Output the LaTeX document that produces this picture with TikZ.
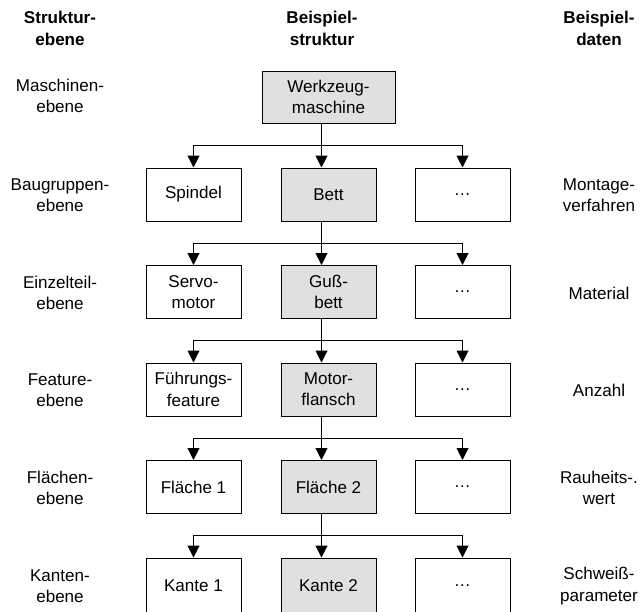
\documentclass[tikz,border=0pt]{standalone}
\usepackage{fontspec}
\setmainfont{Liberation Sans}
\usetikzlibrary{arrows.meta}
\definecolor{boxgray}{RGB}{224,224,224}
\begin{document}
\begin{tikzpicture}[x=0.75pt,y=-0.75pt,
  txt/.style={font=\fontsize{12.8}{16}\selectfont, align=center, inner sep=0pt},
  head/.style={txt, font=\fontsize{12.8}{16.5}\selectfont\bfseries},
  box/.style={txt, draw, line width=0.75pt, minimum width=71.25pt, minimum height=39.75pt},
  selbox/.style={box, fill=boxgray},
  arr/.style={line width=0.75pt, -{Triangle[length=9pt,width=9pt]}},
  link/.style={line width=0.75pt}]
\useasboundingbox (0,0) rectangle (641,611);
\clip (0,0) rectangle (641,611);

% column headings
\node[head] (h1) at (60,28) {Struktur-\\ebene};
\node[head] (h2) at (322,28) {Beispiel-\\struktur};
\node[head] (h3) at (599,28) {Beispiel-\\daten};

% level names (left) and example data (right)
\node[txt] (l1) at (60,96) {Maschinen-\\ebene};
\node[txt] (l2) at (60,195) {Baugruppen-\\ebene};
\node[txt] (l3) at (60,293) {Einzelteil-\\ebene};
\node[txt] (l4) at (60,390) {Feature-\\ebene};
\node[txt] (l5) at (60,488) {Flächen-\\ebene};
\node[txt] (l6) at (60,586) {Kanten-\\ebene};

\node[txt] (d2) at (599,195) {Montage-\\verfahren};
\node[txt] (d3) at (599,293) {Material};
\node[txt] (d4) at (599,390) {Anzahl};
\node[txt] (d5) at (599,488) {Rauheits-.\\wert};
\node[txt] (d6) at (599,586) {Schweiß-\\parameter};

% example structure
\node[selbox, minimum width=99.75pt, minimum height=39pt] (wm) at (328.5,97) {Werkzeug-\\maschine};

\node[box]    (a2) at (193.5,194.5) {Spindel};
\node[selbox] (b2) at (328.5,194.5) {Bett};
\node[box]    (c2) at (462.5,194.5) {\ldots};

\node[box]    (a3) at (193.5,292) {Servo-\\motor};
\node[selbox] (b3) at (328.5,292) {Guß-\\bett};
\node[box]    (c3) at (462.5,292) {\ldots};

\node[box]    (a4) at (193.5,389.5) {Führungs-\\feature};
\node[selbox] (b4) at (328.5,389.5) {Motor-\\flansch};
\node[box]    (c4) at (462.5,389.5) {\ldots};

\node[box]    (a5) at (193.5,487) {Fläche 1};
\node[selbox] (b5) at (328.5,487) {Fläche 2};
\node[box]    (c5) at (462.5,487) {\ldots};

% the lowest row runs past the lower edge of the page
\tikzset{lowrow/.style={minimum height=42pt}}
\node[box, lowrow]    (a6) at (193.5,586) {Kante 1};
\node[selbox, lowrow] (b6) at (328.5,586) {Kante 2};
\node[box, lowrow]    (c6) at (462.5,586) {\ldots};

% branch points of the tree
\coordinate (j2) at (321.5,145.5);
\coordinate (j3) at (321.5,243);
\coordinate (j4) at (321.5,340.5);
\coordinate (j5) at (321.5,438);
\coordinate (j6) at (321.5,535.5);

% connectors
\foreach \p/\j/\n in {wm/j2/2, b2/j3/3, b3/j4/4, b4/j5/5, b5/j6/6}{
  \draw[link] (\p.south -| \j) -- (\j);
  \draw[arr] (\j) -- (\j |- b\n.north);
  \draw[arr] (\j) -| (a\n.north);
  \draw[arr] (\j) -| (c\n.north);
}
\end{tikzpicture}
\end{document}
